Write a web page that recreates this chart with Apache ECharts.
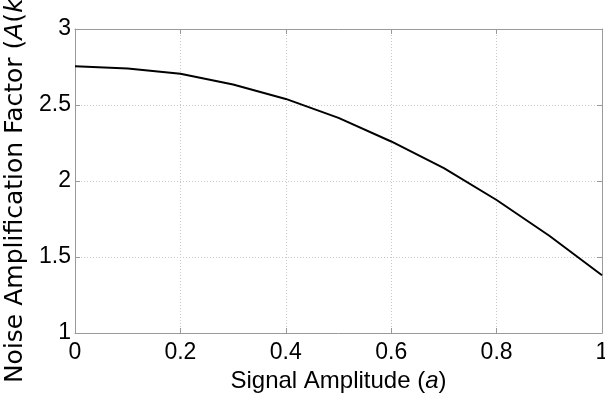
<!DOCTYPE html>
<html>
<head>
<meta charset="utf-8">
<script src="https://cdn.jsdelivr.net/npm/echarts@6/dist/echarts.min.js"></script>
<style>
html,body{margin:0;padding:0;background:#fff;}
#c{width:605px;height:400px;}
</style>
</head>
<body>
<div id="c"></div>
<script>
const amplitude = [0, 0.1, 0.2, 0.3, 0.4, 0.5, 0.6, 0.7, 0.8, 0.9, 1.0];
const noiseFactor = [2.755, 2.74, 2.705, 2.635, 2.54, 2.415, 2.26, 2.085, 1.875, 1.64, 1.38];
const xTicks = [0, 0.2, 0.4, 0.6, 0.8, 1];
const yTicks = [1, 1.5, 2, 2.5, 3];

const chart = echarts.init(document.getElementById('c'), null, {renderer: 'canvas'});
const axisGray = '#9a9a9a';
const font = 'Liberation Sans, Arial, sans-serif';
const fmt = v => String(Math.round(v * 10) / 10);

const option = {
  animation: false,
  backgroundColor: '#fff',
  grid: {left: 75, right: 3, top: 29, bottom: 67, containLabel: false, outerBoundsMode: 'none'},
  xAxis: [{
    type: 'value', min: 0, max: 1, interval: 0.2, position: 'bottom',
    name: 'Signal Amplitude ({i|a})', nameLocation: 'middle', nameGap: 27,
    nameTextStyle: {fontFamily: font, fontSize: 24, color: '#000',
      rich: {i: {fontFamily: font, fontSize: 24, fontStyle: 'italic', color: '#000'}}},
    axisLine: {show: true, onZero: false, lineStyle: {color: axisGray, width: 1}},
    axisTick: {show: true, inside: true, length: 5, lineStyle: {color: axisGray}},
    axisLabel: {show: true, margin: 8, fontFamily: font, fontSize: 23, color: '#000',
      formatter: v => xTicks.includes(Math.round(v*10)/10) ? fmt(v) : ''},
    splitLine: {show: true, lineStyle: {type: [1, 2], color: '#c8c8c8', width: 1}}
  }, {
    type: 'value', min: 0, max: 1, interval: 0.2, position: 'top',
    axisLine: {show: true, onZero: false, lineStyle: {color: axisGray, width: 1}},
    axisTick: {show: true, inside: true, length: 5, lineStyle: {color: axisGray}},
    axisLabel: {show: false}, splitLine: {show: false}
  }],
  yAxis: [{
    type: 'value', min: 1, max: 3, interval: 0.5, position: 'left',
    name: 'Noise Amplification Factor ({i|A}({i|k}))', nameLocation: 'middle', nameGap: 34,
    nameTextStyle: {fontFamily: 'DejaVu Sans', fontSize: 25, color: '#000',
      rich: {i: {fontFamily: 'DejaVu Sans', fontSize: 25, fontStyle: 'italic', color: '#000'}}},
    axisLine: {show: true, onZero: false, lineStyle: {color: axisGray, width: 1}},
    axisTick: {show: true, inside: true, length: 5, lineStyle: {color: axisGray}},
    axisLabel: {show: true, margin: 4, fontFamily: font, fontSize: 23, color: '#000',
      formatter: v => fmt(v)},
    splitLine: {show: true, lineStyle: {type: [1, 2], color: '#c8c8c8', width: 1}}
  }, {
    type: 'value', min: 1, max: 3, interval: 0.5, position: 'right',
    axisLine: {show: true, onZero: false, lineStyle: {color: axisGray, width: 1}},
    axisTick: {show: true, inside: true, length: 5, lineStyle: {color: axisGray}},
    axisLabel: {show: false}, splitLine: {show: false}
  }],
  series: [{
    type: 'line', xAxisIndex: 0, yAxisIndex: 0,
    data: amplitude.map((a, i) => [a, noiseFactor[i]]),
    showSymbol: false, smooth: false,
    lineStyle: {color: '#000', width: 2}
  }]
};
chart.setOption(option);
</script>
</body>
</html>
